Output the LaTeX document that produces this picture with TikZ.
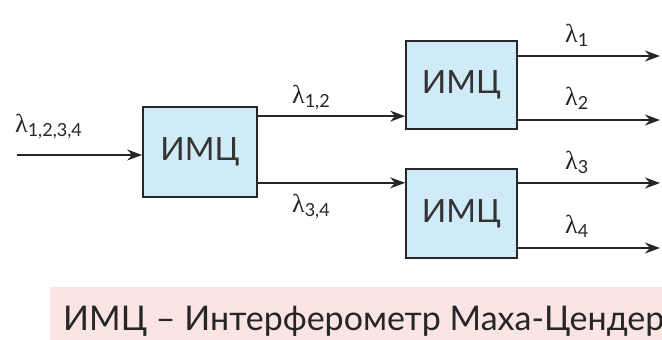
\documentclass[tikz,border=0pt]{standalone}
\usepackage{fontspec}
\setmainfont{Lato}
\newfontfamily\lamfont{Liberation Serif}
\usetikzlibrary{arrows.meta}
\definecolor{boxfill}{HTML}{D0EBF8}
\definecolor{capfill}{HTML}{FBE4E4}
\newcommand{\lam}[1]{{\lamfont\fontsize{26}{28}\selectfont λ}\fontsize{18}{20}\selectfont\raisebox{-4pt}{#1}}
\begin{document}
\begin{tikzpicture}[x=1pt,y=-1pt,
 imc/.style={draw=black!85, line width=1.7pt, fill=boxfill, font=\fontsize{32}{34}\selectfont, text=black!80, inner sep=0pt},
 sig/.style={line width=1.6pt, draw=black!85, -{Stealth[length=15pt,width=11pt]}},
 lab/.style={font=\fontsize{25}{27}\selectfont, anchor=base west, inner sep=0pt, text=black!85}]
\useasboundingbox (0,0) rectangle (662,340);
\node[imc, minimum width=114pt, minimum height=90pt] (m1) at (200,152) {ИМЦ};
\node[imc, minimum width=111pt, minimum height=88pt] (m2) at (461.5,85) {ИМЦ};
\node[imc, minimum width=111pt, minimum height=89pt] (m3) at (461.5,213.5) {ИМЦ};
\coordinate (in) at (17,155);
\coordinate (o1) at (660,56);
\coordinate (o2) at (660,120);
\coordinate (o3) at (660,183);
\coordinate (o4) at (660,248);
\draw[sig] (in) -- (in -| m1.west);
\draw[sig] ([yshift=-10pt]m1.north east) coordinate (a1) -- (a1 -| m2.west);
\draw[sig] ([yshift=15pt]m1.south east) coordinate (a2) -- (a2 -| m3.west);
\draw[sig] (o1 -| m2.east) -- (o1);
\draw[sig] (o2 -| m2.east) -- (o2);
\draw[sig] (o3 -| m3.east) -- (o3);
\draw[sig] (o4 -| m3.east) -- (o4);
\node[lab] (l1234) at (15,132) {\lam{1,2,3,4}};
\node[lab] (l12) at (292,103) {\lam{1,2}};
\node[lab] (l34) at (292,212) {\lam{3,4}};
\node[lab] (l1) at (565,42) {\lam{1}};
\node[lab] (l2) at (565,105) {\lam{2}};
\node[lab] (l3) at (565,169) {\lam{3}};
\node[lab] (l4) at (565,233) {\lam{4}};
\fill[capfill] (50,287) rectangle (662,340);
\begin{scope}
\clip (0,0) rectangle (662,340);
\node[font=\fontsize{34}{36}\selectfont, anchor=base west, inner sep=0pt, text=black!85] (cap) at (63,330) {ИМЦ – Интерферометр Маха-Цендера};
\end{scope}
\end{tikzpicture}
\end{document}
